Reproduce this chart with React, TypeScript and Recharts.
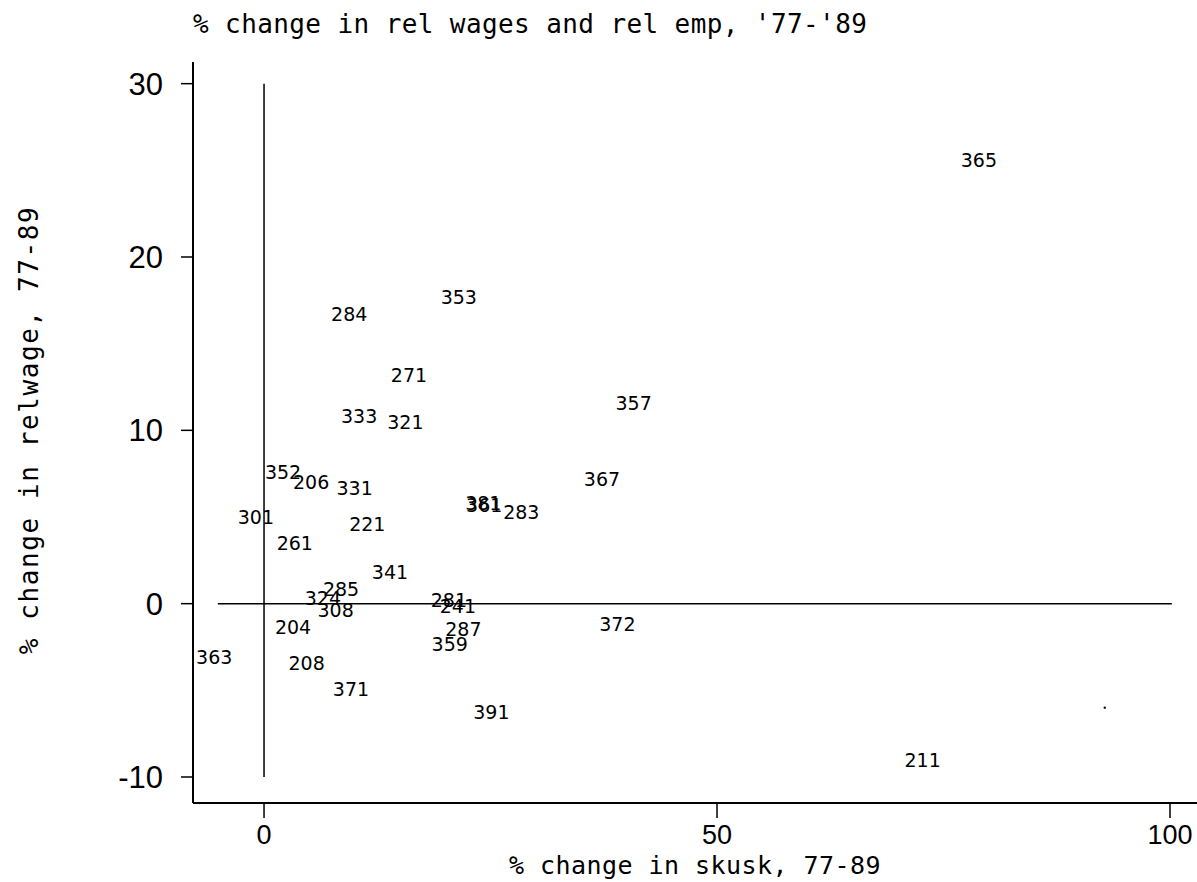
import { ScatterChart, Scatter, XAxis, YAxis, ReferenceLine } from "recharts";

// industry codes and their values
const codes = [
  "365", "353", "284", "271", "357", "333", "321", "352", "206", "331",
  "367", "381", "361", "283", "301", "221", "261", "341", "285", "324",
  "308", "281", "241", "204", "287", "359", "372", "363", "208", "371",
  "391", "211",
];
const skusk = [
  78.9, 21.5, 9.4, 16.0, 40.8, 10.5, 15.6, 2.1, 5.2, 10.0,
  37.3, 24.2, 24.3, 28.4, -0.9, 11.4, 3.4, 13.9, 8.5, 6.5,
  7.9, 20.4, 21.4, 3.2, 22.0, 20.5, 39.0, -5.5, 4.7, 9.6,
  25.1, 72.7,
];
const relwage = [
  25.6, 17.7, 16.7, 13.2, 11.6, 10.8, 10.5, 7.6, 7.0, 6.7,
  7.2, 5.8, 5.7, 5.3, 5.0, 4.6, 3.5, 1.8, 0.85, 0.35,
  -0.35, 0.2, -0.15, -1.35, -1.45, -2.3, -1.2, -3.05, -3.4, -4.95,
  -6.25, -9.0,
];
// stray unlabeled point
const strayX = [92.8];
const strayY = [-6.0];

const xTicks = [0, 50, 100];
const yTicks = [-10, 0, 10, 20, 30];

const points = codes.map((c, i) => ({ code: c, x: skusk[i], y: relwage[i] }));
const stray = strayX.map((x, i) => ({ x, y: strayY[i] }));

const INK = "#000";
const MONO = "'DejaVu Sans Mono', monospace";

function CodeLabel(props: any) {
  const { cx, cy, payload } = props;
  return (
    <text
      x={cx}
      y={cy}
      textAnchor="middle"
      dominantBaseline="central"
      fontFamily="'DejaVu Sans', sans-serif"
      fontSize={19}
      fill={INK}
    >
      {payload.code}
    </text>
  );
}

function Dot(props: any) {
  return <circle cx={props.cx} cy={props.cy} r={1.2} fill={INK} />;
}

export default function App() {
  return (
    <div style={{ position: "absolute", left: 0, top: 0, width: 1197, height: 882, background: "#fff" }}>
      <ScatterChart width={1197} height={882} margin={{ top: 62, right: 0, bottom: 0, left: 0 }}>
        <XAxis
          type="number"
          dataKey="x"
          domain={[-7.84, 102.98]}
          ticks={xTicks}
          allowDataOverflow
          height={79}
          tickSize={15}
          tickMargin={7}
          axisLine={{ stroke: INK, strokeWidth: 2 }}
          tickLine={{ stroke: INK, strokeWidth: 1.5 }}
          tick={{ fill: INK, fontSize: 27, fontFamily: "'Liberation Sans', sans-serif" }}
        />
        <YAxis
          type="number"
          dataKey="y"
          domain={[-11.5, 31.25]}
          ticks={yTicks}
          allowDataOverflow
          width={193}
          tickSize={12}
          tickMargin={18}
          axisLine={{ stroke: INK, strokeWidth: 2 }}
          tickLine={{ stroke: INK, strokeWidth: 1.5 }}
          tick={{ fill: INK, fontSize: 31, fontFamily: "'Liberation Sans', sans-serif" }}
        />
        <ReferenceLine segment={[{ x: 0, y: -10 }, { x: 0, y: 30 }]} stroke={INK} strokeWidth={1.5} />
        <ReferenceLine segment={[{ x: -5.1, y: 0 }, { x: 100.2, y: 0 }]} stroke={INK} strokeWidth={1.5} />
        <Scatter data={points} shape={<CodeLabel />} isAnimationActive={false} />
        <Scatter data={stray} shape={<Dot />} isAnimationActive={false} />
      </ScatterChart>
      <svg
        width={1197}
        height={882}
        style={{ position: "absolute", left: 0, top: 0, pointerEvents: "none" }}
      >
        <text x={193} y={33} fontFamily={MONO} fontSize={26} letterSpacing={0.4} fill={INK}>
          % change in rel wages and rel emp, '77-'89
        </text>
        <text
          x={695}
          y={874}
          textAnchor="middle"
          fontFamily={MONO}
          fontSize={25}
          letterSpacing={0.45}
          fill={INK}
        >
          % change in skusk, 77-89
        </text>
        <text
          x={38}
          y={430}
          textAnchor="middle"
          transform="rotate(-90 38 430)"
          fontFamily={MONO}
          fontSize={26}
          letterSpacing={1.6}
          fill={INK}
        >
          % change in relwage, 77-89
        </text>
      </svg>
    </div>
  );
}
